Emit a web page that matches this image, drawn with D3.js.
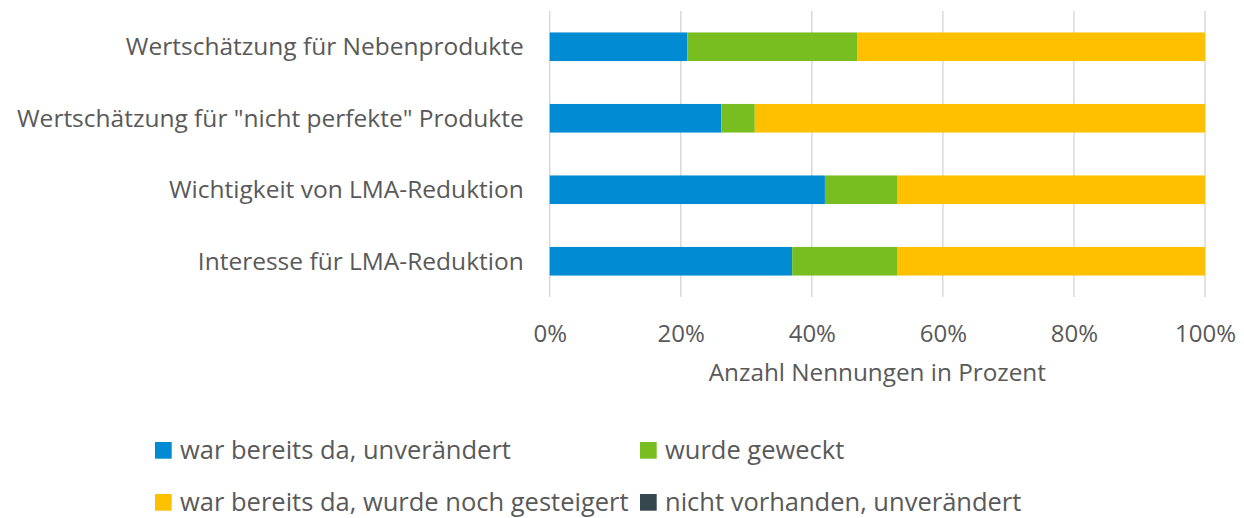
<!DOCTYPE html>
<html>
<head>
<meta charset="utf-8">
<script src="https://cdn.jsdelivr.net/npm/d3@7"></script>
<style>
  html, body { margin: 0; padding: 0; background: #ffffff; }
  svg { display: block; font-family: "Open Sans", sans-serif; }
</style>
</head>
<body>
<svg id="chart" width="1244" height="518"></svg>
<script>
const categories = [
  "Wertschätzung für Nebenprodukte",
  "Wertschätzung für \"nicht perfekte\" Produkte",
  "Wichtigkeit von LMA-Reduktion",
  "Interesse für LMA-Reduktion"
];
const seriesNames = [
  "war bereits da, unverändert",
  "wurde geweckt",
  "war bereits da, wurde noch gesteigert",
  "nicht vorhanden, unverändert"
];
const seriesColors = ["#008BD2", "#78BE20", "#FFC000", "#37474F"];
const unverandert = [21.0, 26.2, 42.0, 37.0];
const geweckt     = [25.9, 5.1, 11.0, 16.0];
const gesteigert  = [53.1, 68.7, 47.0, 47.0];
const nichtVorh   = [0, 0, 0, 0];
const tickValues  = [0, 20, 40, 60, 80, 100];
const axisTitle   = "Anzahl Nennungen in Prozent";

(function () {
const seriesValues = [unverandert, geweckt, gesteigert, nichtVorh];
const rows = categories.map((c, i) => {
  const r = { cat: c };
  seriesNames.forEach((s, j) => r[s] = seriesValues[j][i]);
  return r;
});
const stacked = d3.stack().keys(seriesNames)(rows);

const svg = d3.select("#chart");
const pLeft = 549.7, pRight = 1205, pTop = 11, pBottom = 297;
const x = d3.scaleLinear().domain([0, 100]).range([pLeft, pRight]);
const y = d3.scaleBand().domain(categories).range([pTop, pBottom]).paddingInner(0.6).paddingOuter(0.3);
const color = d3.scaleOrdinal().domain(seriesNames).range(seriesColors);
const textColor = "#595959";

// gridlines
svg.append("g")
  .selectAll("line").data(tickValues).join("line")
  .attr("x1", d => x(d)).attr("x2", d => x(d))
  .attr("y1", pTop).attr("y2", pBottom)
  .attr("stroke", "#D9D9D9").attr("stroke-width", 1.5);

// bars
svg.append("g")
  .selectAll("g").data(stacked).join("g")
  .attr("fill", d => color(d.key))
  .selectAll("rect").data(d => d).join("rect")
  .attr("x", d => x(d[0]))
  .attr("width", d => Math.max(0, x(d[1]) - x(d[0])))
  .attr("y", d => y(d.data.cat))
  .attr("height", y.bandwidth());

// x axis labels
const xAxis = d3.axisBottom(x).tickValues(tickValues).tickFormat(d => d + "%").tickSize(0).tickPadding(0);
const gx = svg.append("g").attr("transform", `translate(0, ${pBottom})`).call(xAxis);
gx.select(".domain").remove();
gx.selectAll("text")
  .attr("y", 0).attr("dy", null)
  .attr("transform", "translate(0,45)")
  .attr("fill", textColor)
  .style("font-family", "'Open Sans', sans-serif")
  .style("font-size", "24px");

// y axis labels
const yAxis = d3.axisLeft(y).tickSize(0).tickPadding(26);
const gy = svg.append("g").attr("transform", `translate(${pLeft}, 0)`).call(yAxis);
gy.select(".domain").remove();
gy.selectAll("text")
  .attr("fill", textColor)
  .attr("dy", "0.35em")
  .style("font-family", "'Open Sans', sans-serif")
  .style("font-size", "24.5px");

// axis title
svg.append("text")
  .attr("x", (pLeft + pRight) / 2).attr("y", 381)
  .attr("text-anchor", "middle")
  .attr("fill", textColor)
  .style("font-size", "24.3px")
  .text(axisTitle);

// legend
const legendPos = [[155, 442], [640, 442], [155, 494], [640, 494]];
const lg = svg.append("g").selectAll("g").data(seriesNames).join("g")
  .attr("transform", (d, i) => `translate(${legendPos[i][0]}, ${legendPos[i][1]})`);
lg.append("rect").attr("width", 16.7).attr("height", 16.7).attr("fill", d => color(d));
lg.append("text")
  .attr("x", 25).attr("y", 16.5)
  .attr("fill", textColor)
  .style("font-size", "25.5px")
  .text(d => d);
})();
</script>
</body>
</html>
